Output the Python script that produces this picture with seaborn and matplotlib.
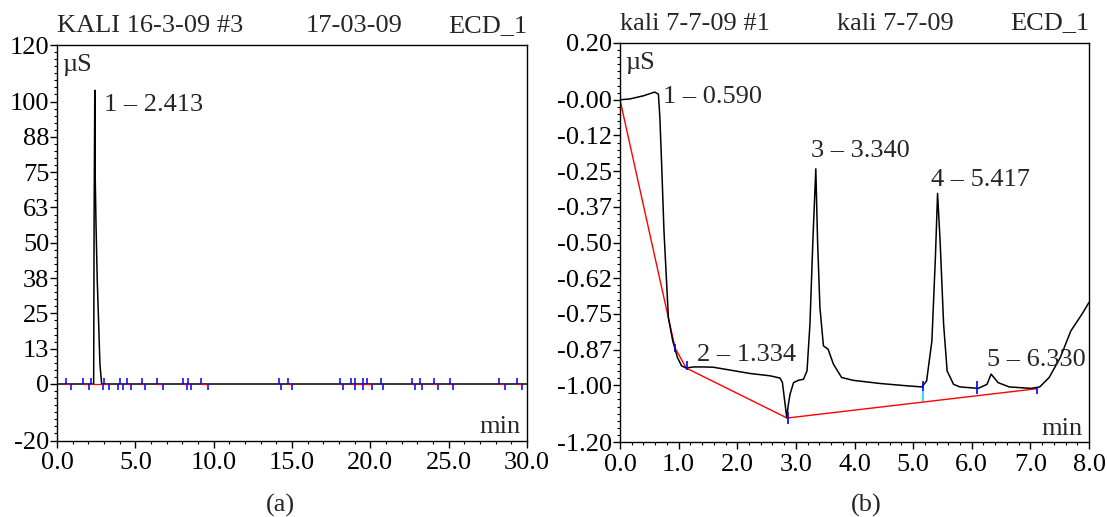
import matplotlib
matplotlib.use("Agg")
import matplotlib.pyplot as plt
import seaborn as sns
import pandas as pd
from matplotlib.ticker import FixedLocator, MultipleLocator

# ---------------- data ----------------
# Panel (a): KALI 16-3-09 #3
t_a = [0.0, 2.34, 2.37, 2.413, 2.44, 2.49, 2.57, 2.64, 2.74, 2.85, 30.0]
v_a = [0.0, 0.0, 60.0, 104.0, 73.0, 56.5, 36.5, 24.7, 7.0, 0.0, 0.0]
a_up_ticks = [0.56, 1.67, 2.15, 2.99, 4.03, 4.49, 5.42, 6.41, 8.03, 8.36, 9.18,
              14.15, 14.77, 18.06, 18.74, 19.01, 19.56, 19.78, 20.66, 22.65,
              23.16, 24.09, 25.09, 28.22, 29.35]
a_down_ticks = [0.89, 2.06, 2.95, 3.32, 3.87, 4.21, 4.72, 5.64, 6.79, 8.29, 8.58,
                9.62, 14.30, 14.99, 18.28, 19.01, 19.52, 20.11, 20.84, 22.87,
                23.32, 24.31, 25.30, 28.62, 29.68]
a_peak_labels = ["1 \u2013 2.413"]
a_peak_label_t = [3.0]
a_peak_label_v = [96.6]
a_yticks = [-20, 0, 12.5, 25, 37.5, 50, 62.5, 75, 87.5, 100, 120]
a_yticklabels = ["-20", "0", "13", "25", "38", "50", "63", "75", "88", "100", "120"]
a_xticks = [0, 5, 10, 15, 20, 25, 30]
a_titles = ["KALI 16-3-09 #3", "17-03-09", "ECD_1"]

# Panel (b): kali 7-7-09 #1
t_b = [0.00, 0.17, 0.40, 0.59, 0.655, 0.68, 0.71, 0.75, 0.785, 0.825, 0.90, 0.98,
       1.05, 1.13, 1.25, 1.42, 1.59, 1.88, 2.22, 2.56, 2.73, 2.77, 2.80, 2.845,
       2.87, 2.90, 2.96, 3.04, 3.13, 3.19, 3.24, 3.29, 3.34, 3.37, 3.41, 3.47,
       3.55, 3.64, 3.78, 3.98, 4.44, 4.89, 5.15, 5.23, 5.32, 5.38, 5.417, 5.46,
       5.52, 5.58, 5.69, 5.80, 6.11, 6.26, 6.33, 6.45, 6.64, 7.01, 7.16, 7.32,
       7.51, 7.69, 7.88, 8.00]
v_b = [0.000, 0.003, 0.014, 0.027, 0.020, -0.061, -0.224, -0.459, -0.600, -0.763,
       -0.845, -0.903, -0.932, -0.940, -0.936, -0.936, -0.937, -0.947, -0.959,
       -0.967, -0.975, -0.990, -1.040, -1.114, -1.070, -1.032, -0.991, -0.983,
       -0.979, -0.950, -0.786, -0.494, -0.242, -0.494, -0.727, -0.862, -0.874,
       -0.926, -0.973, -0.983, -0.994, -1.002, -1.006, -0.985, -0.845, -0.552,
       -0.328, -0.494, -0.786, -0.950, -0.997, -1.006, -1.011, -0.997, -0.961,
       -0.991, -1.006, -1.011, -1.006, -0.973, -0.903, -0.810, -0.751, -0.710]
b_base_t = [0.0, 0.94, 1.13, 2.85, 7.12]
b_base_v = [0.0, -0.870, -0.940, -1.115, -1.012]
b_tick_t = [0.0, 0.94, 1.14, 2.86, 5.17, 6.09, 7.12]
b_tick_lo = [-0.015, -0.885, -0.945, -1.135, -1.020, -1.030, -1.030]
b_tick_hi = [0.015, -0.855, -0.915, -1.095, -0.985, -0.985, -1.008]
b_drop_t = [5.17]
b_drop_lo = [-1.056]
b_drop_hi = [-1.020]
b_peak_labels = ["1 \u2013 0.590", "2 \u2013 1.334", "3 \u2013 3.340",
                 "4 \u2013 5.417", "5 \u2013 6.330"]
b_peak_label_t = [0.73, 1.31, 3.25, 5.30, 6.26]
b_peak_label_v = [-0.012, -0.915, -0.201, -0.301, -0.932]
b_yticks = [-1.2, -1.0, -0.875, -0.75, -0.625, -0.5, -0.375, -0.25, -0.125, 0.0, 0.2]
b_yticklabels = ["-1.20", "-1.00", "-0.87", "-0.75", "-0.62", "-0.50", "-0.37",
                 "-0.25", "-0.12", "-0.00", "0.20"]
b_xticks = [0, 1, 2, 3, 4, 5, 6, 7, 8]
b_titles = ["kali 7-7-09 #1", "kali 7-7-09", "ECD_1"]

panel_labels = ["(a)", "(b)"]

# ---------------- style ----------------
sns.set_style("ticks")
plt.rcParams['font.family'] = ['Liberation Serif', 'DejaVu Serif']
FS = 19

fig = plt.figure(figsize=(11.07, 5.17), dpi=100)
W, H = 1107.0, 517.0
ax1 = fig.add_axes([57 / W, 1 - 440.5 / H, 470 / W, 395.5 / H])
ax2 = fig.add_axes([620 / W, 1 - 442.3 / H, 469 / W, 399.6 / H])


def style_axes(ax, xlim, ylim, xticks, xminor, yticks, yticklabels, yminor, titles, cx):
    ax.set_xlim(*xlim)
    ax.set_ylim(*ylim)
    ax.xaxis.set_major_locator(FixedLocator(xticks))
    ax.set_xticklabels([f"{x:.1f}" for x in xticks])
    ax.xaxis.set_minor_locator(MultipleLocator(xminor))
    ax.yaxis.set_major_locator(FixedLocator(yticks))
    ax.set_yticklabels(yticklabels)
    ax.yaxis.set_minor_locator(MultipleLocator(yminor))
    ax.tick_params(axis='both', which='major', length=5, width=1, direction='out',
                   labelsize=FS, colors='black')
    ax.tick_params(axis='both', which='minor', length=2.5, width=0.8, direction='out',
                   colors='black')
    ax.tick_params(axis='y', which='major', pad=0.5)
    ax.tick_params(axis='x', which='major', pad=3.5)
    for s in ax.spines.values():
        s.set_visible(True)
        s.set_color('black')
        s.set_linewidth(1.0)
    ax.set_xlabel("")
    ax.set_ylabel("")
    ax.text(0.0, 1.033, titles[0], transform=ax.transAxes, ha='left', va='baseline', fontsize=FS)
    ax.text(cx, 1.033, titles[1], transform=ax.transAxes, ha='center', va='baseline', fontsize=FS)
    ax.text(1.0, 1.033, titles[2], transform=ax.transAxes, ha='right', va='baseline', fontsize=FS)
    ax.text(0.012, 0.949, "\u00b5S", transform=ax.transAxes, ha='left', va='center', fontsize=FS)
    ax.text(0.987, 0.034, "min", transform=ax.transAxes, ha='right', va='center', fontsize=FS)


# ---------------- panel (a) ----------------
df_a = pd.DataFrame({"t": t_a, "v": v_a})
sns.lineplot(data=df_a, x="t", y="v", ax=ax1, color='black', linewidth=1.1,
             sort=False, estimator=None)
# integration baseline segments (red) and delimiters (blue)
for u in a_up_ticks:
    later = [d for d in a_down_ticks if d > u]
    if later:
        d = min(later)
        seg = pd.DataFrame({"t": [u, d], "v": [0.0, 0.0]})
        sns.lineplot(data=seg, x="t", y="v", ax=ax1, color='red', linewidth=0.9,
                     sort=False, estimator=None)
ax1.vlines(a_up_ticks, 0.0, 2.1, colors='blue', linewidth=1.1)
ax1.vlines(a_down_ticks, 0.0, -2.3, colors='blue', linewidth=1.1)
for lab, tx, vy in zip(a_peak_labels, a_peak_label_t, a_peak_label_v):
    ax1.text(tx, vy, lab, ha='left', va='baseline', fontsize=FS)
style_axes(ax1, (0, 30), (-20, 120), a_xticks, 1.0, a_yticks, a_yticklabels, 2.5,
           a_titles, 0.632)

# ---------------- panel (b) ----------------
df_b = pd.DataFrame({"t": t_b, "v": v_b})
df_base = pd.DataFrame({"t": b_base_t, "v": b_base_v})
sns.lineplot(data=df_base, x="t", y="v", ax=ax2, color='red', linewidth=1.0,
             sort=False, estimator=None)
sns.lineplot(data=df_b, x="t", y="v", ax=ax2, color='black', linewidth=1.1,
             sort=False, estimator=None)
ax2.vlines(b_drop_t, b_drop_lo, b_drop_hi, colors='#33dddd', linewidth=1.4)
ax2.vlines(b_tick_t, b_tick_lo, b_tick_hi, colors='blue', linewidth=1.2)
for lab, tx, vy in zip(b_peak_labels, b_peak_label_t, b_peak_label_v):
    ax2.text(tx, vy, lab, ha='left', va='baseline', fontsize=FS)
style_axes(ax2, (0, 8), (-1.2, 0.2), b_xticks, 0.2, b_yticks, b_yticklabels, 0.025,
           b_titles, 0.588)

fig.text(280 / W, 1 - 505 / H, panel_labels[0], ha='center', va='center', fontsize=FS)
fig.text(866 / W, 1 - 505 / H, panel_labels[1], ha='center', va='center', fontsize=FS)

fig.savefig("out.png", dpi=100)
